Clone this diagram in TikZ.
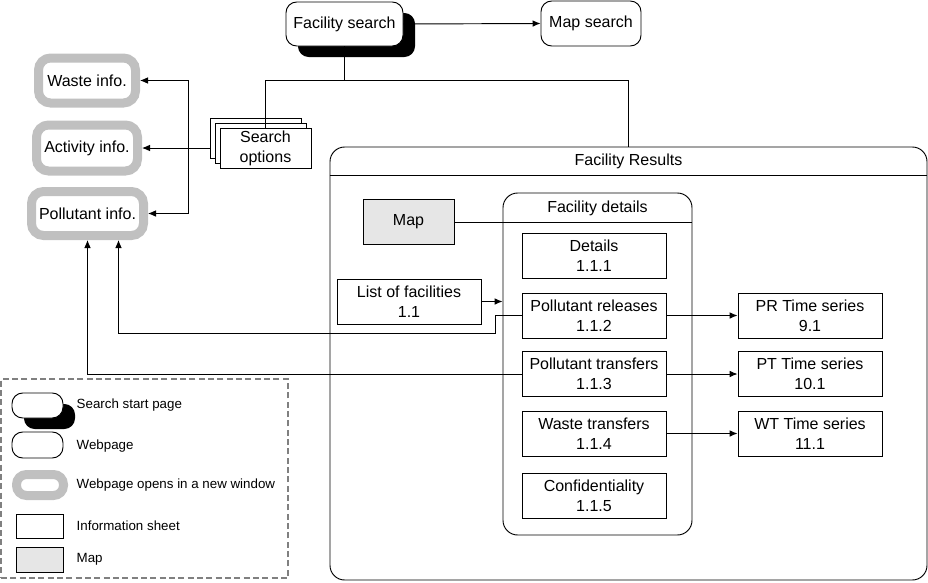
\documentclass[tikz,border=0pt]{standalone}
\usepackage{fontspec}
\setmainfont{Liberation Sans}
\usepackage{xcolor}
\usepackage{tikz}
\usetikzlibrary{calc,shadows,arrows.meta}
\definecolor{wingray}{HTML}{C0C0C0}
\definecolor{mapfill}{HTML}{E6E6E6}
\definecolor{legline}{HTML}{808080}
\tikzset{
  base/.style={draw=black, line width=0.7pt, fill=white, inner sep=0pt, align=center, font=\fontsize{12}{15}\selectfont},
  page/.style={base, rounded corners=8pt},
  startpage/.style={page, drop shadow={shadow xshift=9pt, shadow yshift=-8.25pt, fill=black, opacity=1}},
  newwin/.style={base, draw=wingray, line width=6.75pt, rounded corners=9pt},
  sheet/.style={base},
  mapbox/.style={base, fill=mapfill},
  stack/.style={base,
    copy shadow={shadow xshift=-7.5pt, shadow yshift=7.5pt, draw=black, fill=white, line width=0.7pt},
    copy shadow={shadow xshift=-3.75pt, shadow yshift=3.75pt, draw=black, fill=white, line width=0.7pt}},
  frame/.style={draw=black, line width=0.7pt, rounded corners=11pt, inner sep=0pt},
  conn/.style={draw=black, line width=0.7pt},
  arr/.style={conn, -{Latex[length=6pt,width=5pt]}},
  lab/.style={font=\fontsize{12}{15}\selectfont},
  leglab/.style={anchor=west, font=\fontsize{10}{12}\selectfont},
}

\begin{document}
\begin{tikzpicture}[x=0.75pt, y=-0.75pt]
  \useasboundingbox (0,0) rectangle (928,582);

  % search pages
  \node[startpage, minimum width=87.75pt, minimum height=33pt] (fsearch) at (344.5,24) {Facility search};
  \node[page, minimum width=75pt, minimum height=33.75pt] (msearch) at (591,23.5) {Map search};
  \node[stack, minimum width=68.25pt, minimum height=30pt] (sopt) at (265.5,148) {Search\\options};

  \node[newwin, minimum width=72.75pt, minimum height=33.75pt] (waste) at (87,80.5) {Waste info.};
  \node[newwin, minimum width=75.75pt, minimum height=34.5pt] (activity) at (87,148) {Activity info.};
  \node[newwin, minimum width=84pt, minimum height=33pt] (pollutant) at (87.5,213.5) {Pollutant info.};

  % facility results
  \node[frame, minimum width=447.75pt, minimum height=324.75pt] (results) at (628.5,363.5) {};
  \draw[conn] (results.west |- 0,175) -- (results.east |- 0,175);
  \node[lab] (restitle) at (628.5,161) {Facility Results};

  \node[mapbox, minimum width=68.25pt, minimum height=33.75pt] (map) at (408.5,222) {Map};
  \node[sheet, minimum width=108pt, minimum height=33.75pt] (list) at (409,301.5) {List of facilities\\1.1};

  \node[frame, minimum width=141.75pt, minimum height=256.5pt] (fdetails) at (597.5,364) {};
  \draw[conn] (fdetails.west |- 0,222) -- (fdetails.east |- 0,222);
  \node[lab] (fdtitle) at (597.5,208) {Facility details};

  \node[sheet, minimum width=108pt, minimum height=33.75pt] (det) at (594,255.5) {Details\\1.1.1};
  \node[sheet, minimum width=108pt, minimum height=33.75pt] (prel) at (594,315.5) {Pollutant releases\\1.1.2};
  \node[sheet, minimum width=108pt, minimum height=33.75pt] (ptra) at (594,374) {Pollutant transfers\\1.1.3};
  \node[sheet, minimum width=108pt, minimum height=33.75pt] (wtra) at (594,433.5) {Waste transfers\\1.1.4};
  \node[sheet, minimum width=108pt, minimum height=33.75pt] (conf) at (594,495.5) {Confidentiality\\1.1.5};

  \node[sheet, minimum width=108pt, minimum height=33.75pt] (prts) at (810,315.5) {PR Time series\\9.1};
  \node[sheet, minimum width=108pt, minimum height=33.75pt] (ptts) at (810,374) {PT Time series\\10.1};
  \node[sheet, minimum width=108pt, minimum height=33.75pt] (wtts) at (810,433.5) {WT Time series\\11.1};

  % connectors
  \draw[arr] (fsearch.east) -- (msearch.west);
  \draw[conn] (fsearch.south) -- ++(0,34) coordinate (split);
  \draw[conn] (split) -| (sopt.north);
  \draw[conn] (split) -| (results.north);

  \draw[arr] ([xshift=-7.5pt]sopt.west) -- (activity.east);
  \coordinate (bus) at (188,148);
  \draw[arr] (bus) |- (waste.east);
  \draw[arr] (bus) |- (pollutant.east);

  \draw[conn] (map.east) -- (map.east -| fdetails.west);
  \draw[arr] (list.east) -- (list.east -| fdetails.west);

  \draw[arr] (prel.east) -- (prts.west);
  \draw[arr] (ptra.east) -- (ptts.west);
  \draw[arr] (wtra.east) -- (wtts.west);

  \draw[arr] (prel.west) -| (495,333) -| ($(pollutant.south)+(31,0)$);
  \draw[arr] (ptra.west) -| (pollutant.south);

  % legend
  \node[draw=legline, line width=1.1pt, dash pattern=on 4.5pt off 2.5pt, minimum width=215.25pt, minimum height=149.25pt] (legend) at (144.5,478.5) {};
  \node[startpage, minimum width=38.25pt, minimum height=18.75pt] (lstart) at (37.5,405.5) {};
  \node[page, minimum width=38.25pt, minimum height=19.5pt] (lweb) at (37.5,445) {};
  \node[newwin, rounded corners=7.5pt, minimum width=35.25pt, minimum height=15.75pt] (lnew) at (40,485) {};
  \node[sheet, minimum width=35.25pt, minimum height=18pt] (lsheet) at (39.5,526) {};
  \node[mapbox, minimum width=35.25pt, minimum height=18.75pt] (lmap) at (39.5,559.5) {};

  \node[leglab] at (72,405) {Search start page};
  \node[leglab] at (72,446) {Webpage};
  \node[leglab] at (72,485) {Webpage opens in a new window};
  \node[leglab] at (72,526) {Information sheet};
  \node[leglab] at (72,559) {Map};
\end{tikzpicture}
\end{document}
